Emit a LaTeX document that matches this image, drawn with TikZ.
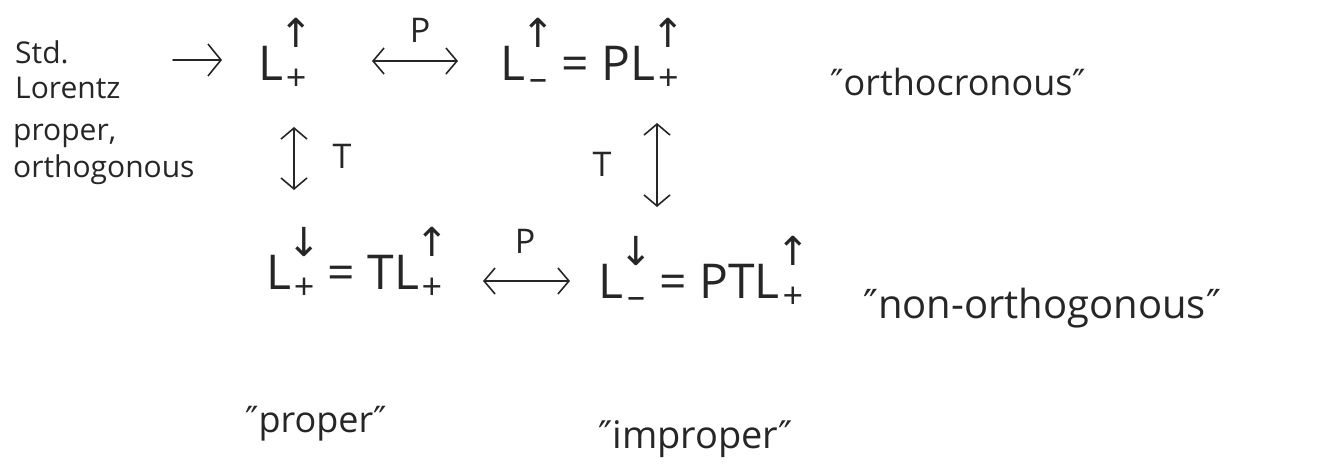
\documentclass[tikz,border=0pt]{standalone}
\usepackage{fontspec}
\setmainfont{Open Sans}
\setsansfont{Open Sans}
\newfontfamily\dvs{DejaVu Sans}
\usetikzlibrary{arrows.meta,calc}
% L with superscript arrow and subscript sign, built from text
\newcommand{\Ls}[2]{L\kern2pt\rlap{\makebox[22pt][c]{\raisebox{33pt}{\fontsize{40}{40}\dvs #1}}}\makebox[22pt][c]{\raisebox{-10pt}{\fontsize{36}{36}\selectfont #2}}}
\newcommand{\qm}{{\dvs ″}}
\begin{document}
\begin{tikzpicture}[x=1pt,y=-1pt,
  ink/.style={draw=black!85, line width=1.6pt, line cap=round},
  arr/.style={ink,-{Straight Barb[length=13pt,width=32pt]}},
  dbl/.style={ink,{Straight Barb[length=11pt,width=26pt]}-{Straight Barb[length=11pt,width=26pt]}},
  hw/.style={inner sep=0pt, text=black!85, font=\fontsize{30}{34}\selectfont},
  mth/.style={inner sep=0pt, text=black!85, font=\fontsize{48}{60}\selectfont},
  lab/.style={inner sep=0pt, text=black!85, font=\fontsize{36}{40}\selectfont},
  op/.style={inner sep=0pt, text=black!85, font=\fontsize{34}{40}\selectfont}]
\useasboundingbox (0,0) rectangle (1319,472);
% left description
\node[hw, anchor=base west] (std1) at (15,63) {Std.};
\node[hw, anchor=base west] (std2) at (15,98) {Lorentz};
\node[hw, anchor=base west] (po1) at (13,140) {proper,};
\node[hw, anchor=base west] (po2) at (13,177) {orthogonous};
% top row
\node[mth, anchor=base west] (Lpp) at (258,80) {\Ls{↑}{+}};
\node[mth, anchor=base west] (Lmu) at (500,80) {\Ls{↑}{–} = P\Ls{↑}{+}};
\node[lab, anchor=base west] (orth) at (830,95) {\qm orthocronous\qm};
% bottom row
\node[mth, anchor=base west] (Lpd) at (266,289) {\Ls{↓}{+} = T\Ls{↑}{+}};
\node[mth, anchor=base west] (Lmd) at (598,298) {\Ls{↓}{–} = PT\Ls{↑}{+}};
\node[lab, font=\fontsize{40}{44}\selectfont, anchor=base west] (nonorth) at (863,318) {\qm non-orthogonous\qm};
% bottom labels
\node[lab, anchor=base west] (prop) at (245,432) {\qm proper\qm};
\node[lab, font=\fontsize{38}{44}\selectfont, anchor=base west] (improp) at (598,448) {\qm improper\qm};
% operator labels
\node[op, anchor=base] (P1) at (420,42) {P};
\node[op, anchor=base] (P2) at (525,253) {P};
\node[op, anchor=base] (T1) at (342,168) {T};
\node[op, anchor=base] (T2) at (602,176) {T};
% connectors
\draw[arr] ($(std1.base west)+(158,-3)$) -- ($(Lpp.base west)+(-36,-20)$);
\draw[dbl] ($(Lpp.base west)+(114,-19)$) -- ($(Lmu.base west)+(-42,-19)$);
\draw[dbl] ($(Lpd.base west)+(217,-8)$) -- ($(Lmd.base west)+(-28,-17)$);
\draw[dbl] ($(Lpp.base west)+(36,47)$) -- ($(Lpd.base west)+(28,-99)$);
\draw[dbl] ($(Lmu.base west)+(157,43)$) -- ($(Lmd.base west)+(59,-91)$);
\end{tikzpicture}
\end{document}
